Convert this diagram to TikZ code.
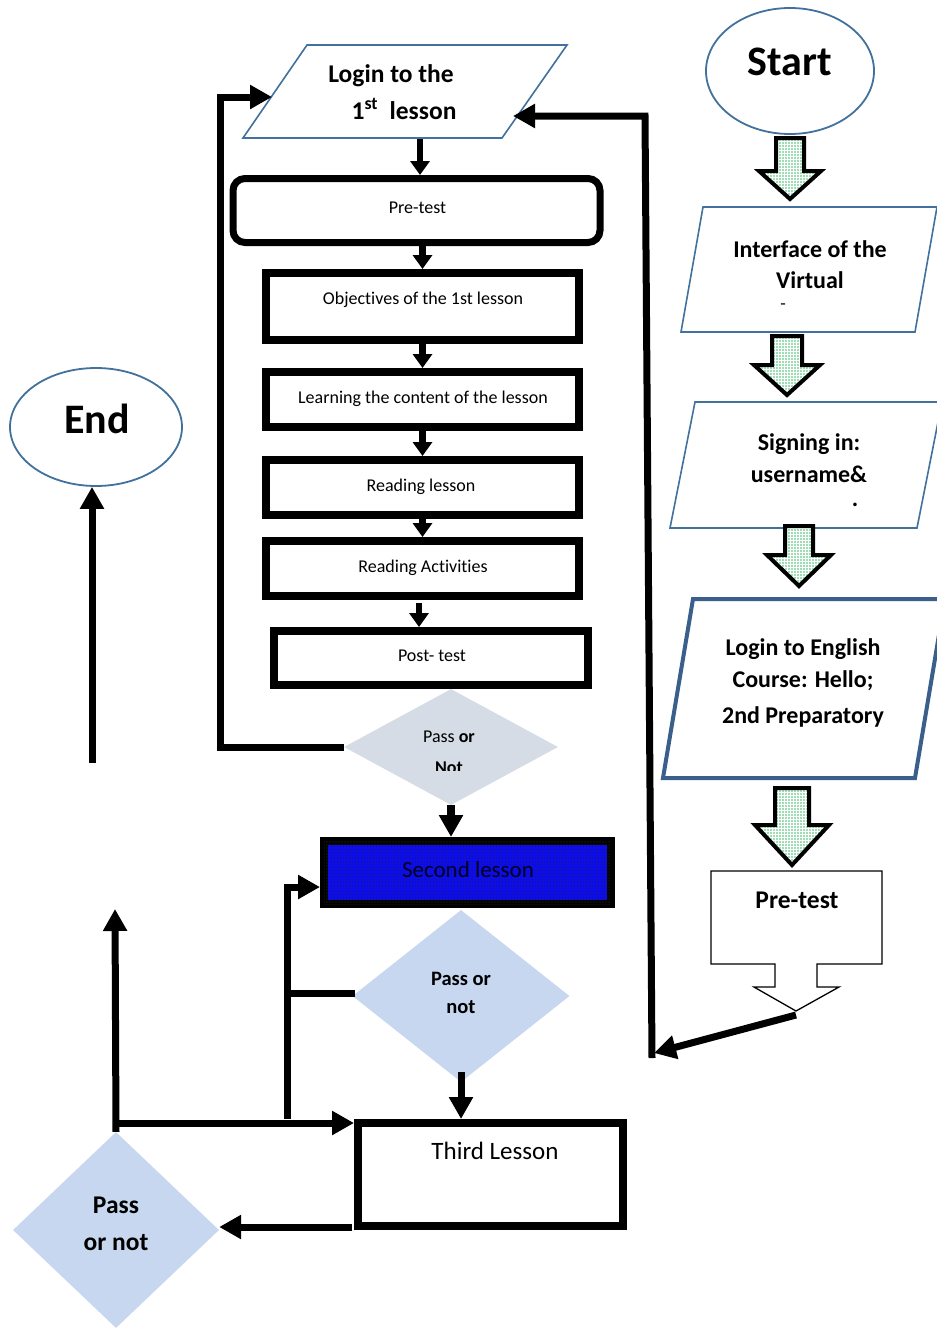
\documentclass[tikz,border=0pt]{standalone}
\usepackage{fontspec}
\setmainfont{Carlito}[Ligatures=NoCommon]
\usetikzlibrary{arrows.meta,shapes.geometric,patterns}
\pgfdeclarepatternformonly{gdots}{\pgfqpoint{-1pt}{-1pt}}{\pgfqpoint{1pt}{1pt}}{\pgfqpoint{3pt}{3pt}}%
  {\pgfpathcircle{\pgfqpoint{0pt}{0pt}}{0.8pt}\pgfusepath{fill}}
\pgfdeclarepatternformonly{kdots}{\pgfqpoint{-1pt}{-1pt}}{\pgfqpoint{1pt}{1pt}}{\pgfqpoint{3pt}{3pt}}%
  {\pgfpathcircle{\pgfqpoint{0pt}{0pt}}{0.65pt}\pgfusepath{fill}}
\definecolor{shapeblue}{HTML}{41719C}
\definecolor{loginblue}{HTML}{3A5F8B}
\definecolor{graydia}{HTML}{D6DCE5}
\definecolor{lbdia}{HTML}{C6D7EF}
\definecolor{lessonblue}{HTML}{0A0AF0}
\definecolor{dotgreen}{HTML}{3DBE6A}
\tikzset{
  rA/.style={font=\fontsize{18}{22}\selectfont},
  rB/.style={font=\fontsize{23}{28}\selectfont},
  rC/.style={font=\fontsize{25}{30}\selectfont},
  bA/.style={font=\fontsize{18}{22}\selectfont\bfseries},
  bB/.style={font=\fontsize{20.5}{25}\selectfont\bfseries},
  bC/.style={font=\fontsize{24}{29}\selectfont\bfseries},
  bD/.style={font=\fontsize{25.5}{31}\selectfont\bfseries},
  bE/.style={font=\fontsize{42}{50}\selectfont\bfseries},
  lbl/.style={anchor=base, inner sep=0pt},
  pbox/.style={draw=shapeblue, line width=1.6pt, fill=white, line join=miter},
  oval/.style={ellipse, draw=shapeblue, line width=1.8pt, fill=white, inner sep=0pt},
  box/.style={draw=black, line width=8pt, fill=white, inner sep=0pt},
  dia/.style={diamond, draw=none, inner sep=0pt},
  blk/.style={fill=white, line join=miter,
    postaction={pattern=gdots, pattern color=dotgreen},
    postaction={draw=black, line width=4pt}},
  arrS/.style={line width=6.5pt, -{Triangle[length=14pt,width=19pt]}},
  arrL/.style={line width=7pt, line join=miter, -{Triangle[length=22pt,width=23pt]}},
  lineL/.style={line width=7pt, line join=miter},
}
\newcommand\blockarrow[6]{%
  \draw[blk] ({#1-#5},#2) -- ({#1+#5},#2) -- ({#1+#5},#3) -- ({#1+#6},#3)
    -- (#1,#4) -- ({#1-#6},#3) -- ({#1-#5},#3) -- cycle;}
\begin{document}
\begin{tikzpicture}[x=1pt,y=-1pt]
\useasboundingbox (0,0) rectangle (937,1328);

% ---------------- right column ----------------
\node[oval, minimum width=168pt, minimum height=126pt] (start) at (790,71) {};
\node[lbl, bE] (startT) at (790,75) {Start};
\blockarrow{790}{138}{171}{199}{14}{31}

\path[pbox] (703,207) -- (937,207) -- (915,332) -- (681,332) -- cycle;
\node[lbl, bC] (ifaceA) at (810,257) {Interface of the};
\node[lbl, bC] (ifaceB) at (810,288) {Virtual};
\node[lbl, rA] (ifaceC) at (783,309) {-};
\blockarrow{787}{336}{365}{395}{15}{33}

\path[pbox] (695,402) -- (942,402) -- (917,528) -- (670,528) -- cycle;
\node[lbl, bC] (signA) at (809,450) {Signing in:};
\node[lbl, bC] (signB) at (809,482) {username\&};
\node[lbl, bC] (signC) at (855,506) {.};
\blockarrow{799}{526}{555}{586}{14}{32}

\path[draw=loginblue, line width=4pt, fill=white, line join=miter]
  (693,599) -- (945,599) -- (915,778) -- (663,778) -- cycle;
\node[lbl, bC] (engA) at (803,655) {Login to English};
\node[lbl, bC] (engB) at (803,687) {Course: Hello;};
\node[lbl, bC] (engC) at (803,723) {2nd Preparatory};
\blockarrow{792}{788}{825}{865}{17}{37}

\draw[line width=1.3pt, fill=white, line join=miter]
  (711,871) -- (882,871) -- (882,964) -- (817,964) -- (817,987) -- (839,987)
  -- (796,1011) -- (754,987) -- (775,987) -- (775,964) -- (711,964) -- cycle;
\node[lbl, bD] (pretestR) at (797,908) {Pre-test};
\coordinate (ptTip) at (796,1015);

% ---------------- middle column ----------------
\path[pbox] (307,45) -- (567,45) -- (502,138) -- (243,138) -- cycle;
\node[lbl, bD] (loginA) at (391,82) {Login to the};
\node[lbl, bD] (loginB) at (404,119) {1\textsuperscript{st}\hspace{0.45em}lesson};
\coordinate (login1L) at (272,97);
\coordinate (login1R) at (513,116);
\coordinate (login1B) at (420,139);

\node[box, line width=7pt, rounded corners=12pt, minimum width=367pt, minimum height=64pt] (pretest) at (416.5,210.5) {};
\node[lbl, rA] (pretestT) at (417.5,213) {Pre-test};
\node[box, minimum width=313pt, minimum height=67pt] (obj) at (422.5,306.5) {};
\node[lbl, rA] (objT) at (423,304) {Objectives of the 1st lesson};
\node[box, minimum width=313pt, minimum height=55pt] (learn) at (422.5,399.5) {};
\node[lbl, rA] (learnT) at (423,403) {Learning the content of the lesson};
\node[box, minimum width=313pt, minimum height=55pt] (read) at (422.5,487.5) {};
\node[lbl, rA] (readT) at (421,491) {Reading lesson};
\node[box, minimum width=313pt, minimum height=55pt] (act) at (422.5,568.5) {};
\node[lbl, rA] (actT) at (423,572) {Reading Activities};
\node[box, minimum width=314pt, minimum height=54pt] (post) at (431,658) {};
\node[lbl, rA] (postT) at (432,661) {Post- test};

\node[dia, fill=graydia, minimum width=214pt, minimum height=116pt] (dia1) at (451,747) {};
\node[lbl, rA] (dia1A) at (449,742) {Pass \textbf{or}};
\begin{scope}
  \clip (380,748) rectangle (520,770);
  \node[lbl, bA] (dia1B) at (449,773) {Not};
\end{scope}

\node[box, fill=lessonblue, minimum width=287pt, minimum height=63pt,
      postaction={pattern=kdots, pattern color=black!80}] (second) at (467.5,872.5) {};
\node[lbl, rB, text=black!85!blue] (secondT) at (468,877) {Second lesson};

\node[dia, fill=lbdia, minimum width=217pt, minimum height=172pt] (dia2) at (461,996) {};
\node[lbl, bB] (dia2A) at (461,985) {Pass or};
\node[lbl, bB] (dia2B) at (461,1013) {not};

\node[box, minimum width=265pt, minimum height=103pt] (third) at (490.5,1174.5) {};
\node[lbl, rC] (thirdT) at (495,1159) {Third Lesson};

\node[dia, fill=lbdia, minimum width=206pt, minimum height=196pt] (dia3) at (116,1230) {};
\node[lbl, bD] (dia3A) at (116,1213) {Pass};
\node[lbl, bD] (dia3B) at (116,1250) {or not};

% ---------------- left ----------------
\node[oval, minimum width=172pt, minimum height=118pt] (end) at (96,427) {};
\node[lbl, bE] (endT) at (97,433) {End};

% ---------------- connectors ----------------
\draw[arrS] (login1B) -- (login1B |- pretest.north);
\draw[arrS] (obj.north |- pretest.south) -- (obj.north);
\draw[arrS] (obj.south) -- (learn.north);
\draw[arrS] (learn.south) -- (read.north);
\draw[arrS] (read.south) -- (act.north);
\coordinate (actB) at (419,603);
\draw[arrS] (actB) -- (actB |- post.north);

\coordinate (lLoopB) at (220,747);
\coordinate (lLoopT) at (220,97);
\draw[arrL] (dia1.west) -- (lLoopB) -- (lLoopT) -- (login1L);

\coordinate (rCorner) at (654,1053);
\coordinate (rBot) at (652,1058);
\coordinate (rTop) at (645,116);
\draw[arrL] (ptTip) -- (rCorner);
\draw[arrL] (rBot) -- (rTop) -- (login1R);

\draw[arrL, line width=7.5pt] (dia1.south) -- (dia1.south |- second.north);

\coordinate (v287b) at (287,1119);
\coordinate (v287t) at (287,887);
\coordinate (d2w) at (355,993);
\draw[lineL] (d2w) -- (d2w -| v287b);
\draw[arrL] (v287b) -- (v287t) -- (v287t -| second.west);

\coordinate (d2s) at (461,1072);
\draw[arrL] (d2s) -- (d2s |- third.north);

\coordinate (t3o) at (352,1227);
\draw[arrL] (t3o) -- (t3o -| dia3.east);

\coordinate (hStart) at (114,1123);
\draw[arrL] (hStart) -- (hStart -| third.west);
\coordinate (upTip) at (115,909);
\draw[arrL] (dia3.north) -- (upTip);

\coordinate (endB) at (92,763);
\draw[arrL] (endB) -- (endB |- end.south);

\end{tikzpicture}
\end{document}
